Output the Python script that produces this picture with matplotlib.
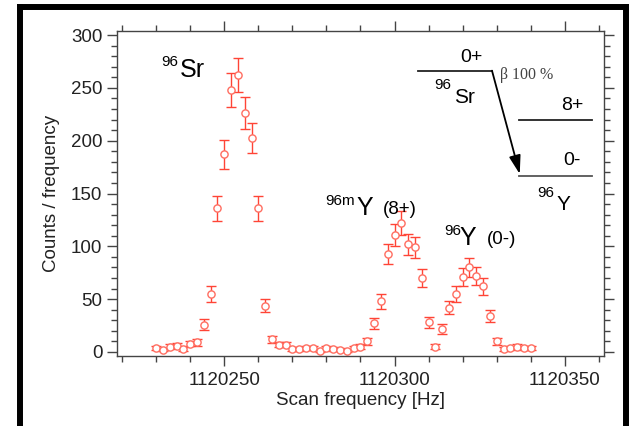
import numpy as np
import matplotlib.pyplot as plt
from matplotlib.lines import Line2D
from matplotlib.ticker import MultipleLocator

plt.rcParams['font.family'] = ['Liberation Sans', 'DejaVu Sans']

# Scan data: frequency, counts per step and their errors
freq = np.arange(1120230, 1120341, 2)
counts = np.array([4, 2, 5, 6, 3, 8, 9, 26, 55, 136,
                   187, 248, 262, 226, 203, 136, 44, 12, 7, 7,
                   3, 3, 4, 4, 1, 4, 3, 2, 1, 4,
                   5, 10, 27, 48, 93, 111, 122, 102, 99, 70,
                   28, 5, 22, 42, 55, 71, 80, 72, 62, 34,
                   10, 3, 4, 5, 4, 4])
errors = np.array([2.0, 1.4, 2.2, 2.4, 1.7, 2.8, 3.0, 5.1, 7.4, 11.7,
                   13.7, 15.7, 16.2, 15.0, 14.2, 11.7, 6.6, 3.5, 2.6, 2.6,
                   1.7, 1.7, 2.0, 2.0, 1.0, 2.0, 1.7, 1.4, 1.0, 2.0,
                   2.2, 3.2, 5.2, 6.9, 9.6, 10.5, 11.0, 10.1, 9.9, 8.4,
                   5.3, 2.2, 4.7, 6.5, 7.4, 8.4, 8.9, 8.5, 7.9, 5.8,
                   3.2, 1.7, 2.0, 2.2, 2.0, 2.0])

fig = plt.figure(figsize=(6.32, 4.26), dpi=100)
ax = fig.add_axes([0.1851, 0.1643, 0.7706, 0.7629])

ax.errorbar(freq, counts, yerr=errors, fmt='o', ms=5.2, mfc='white',
            mec='#ff6d60', mew=1.0, ecolor='#ff4436', elinewidth=1.0,
            capsize=3.6, capthick=1.0)

ax.set_xlim(1120218.5, 1120361.5)
ax.set_ylim(-3.8, 303.8)
ax.xaxis.set_major_locator(MultipleLocator(50))
ax.xaxis.set_minor_locator(MultipleLocator(10))
ax.yaxis.set_major_locator(MultipleLocator(50))
ax.yaxis.set_minor_locator(MultipleLocator(10))
ax.ticklabel_format(axis='x', useOffset=False, style='plain')

for sp in ax.spines.values():
    sp.set_color('#444444')
    sp.set_linewidth(1.0)
ax.tick_params(which='both', direction='out', top=True, right=True,
               color='#444444', width=1.0, labelsize=13.5,
               labelcolor='#222222')
ax.tick_params(which='major', length=7.5, pad=3)
ax.tick_params(which='minor', length=4)
ax.tick_params(axis='x', which='major', pad=4)

ax.set_xlabel('Scan frequency [Hz]', fontsize=13.5, color='#222222', labelpad=2)
ax.set_ylabel('Counts / frequency', fontsize=13.5, color='#222222', labelpad=8)

# Peak labels
ax.text(0.091, 0.893, '96', transform=ax.transAxes, fontsize=11, va='baseline')
ax.text(0.129, 0.858, 'Sr', transform=ax.transAxes, fontsize=18, va='baseline')
ax.text(0.428, 0.465, '96m', transform=ax.transAxes, fontsize=11, va='baseline')
ax.text(0.492, 0.435, 'Y', transform=ax.transAxes, fontsize=18, va='baseline')
ax.text(0.546, 0.437, '(8+)', transform=ax.transAxes, fontsize=13.5, va='baseline')
ax.text(0.672, 0.372, '96', transform=ax.transAxes, fontsize=11, va='baseline')
ax.text(0.704, 0.342, 'Y', transform=ax.transAxes, fontsize=18, va='baseline')
ax.text(0.760, 0.344, '(0-)', transform=ax.transAxes, fontsize=13.5, va='baseline')

# Decay scheme: 96Sr (0+) -> 96Y levels
lc = '#222222'
ax.plot([0.618, 0.770], [0.878, 0.878], color=lc, lw=1.3, transform=ax.transAxes, clip_on=False)
ax.plot([0.826, 0.976], [0.727, 0.727], color=lc, lw=1.3, transform=ax.transAxes, clip_on=False)
ax.plot([0.826, 0.976], [0.554, 0.554], color='#555555', lw=1.3, transform=ax.transAxes, clip_on=False)
ax.annotate('', xy=(0.827, 0.560), xytext=(0.770, 0.878), xycoords='axes fraction',
            arrowprops=dict(arrowstyle='-|>,head_length=0.8,head_width=0.25',
                            color='black', lw=1.3, mutation_scale=14,
                            shrinkA=0, shrinkB=0))
ax.text(0.728, 0.905, '0+', transform=ax.transAxes, fontsize=14, ha='center', va='baseline')
ax.text(0.652, 0.822, '96', transform=ax.transAxes, fontsize=11, va='baseline')
ax.text(0.692, 0.777, 'Sr', transform=ax.transAxes, fontsize=15, va='baseline')
ax.text(0.786, 0.851, 'β 100 %', transform=ax.transAxes, fontsize=11.5, va='baseline',
        family=['Liberation Serif', 'DejaVu Serif'], color='#444444')
ax.text(0.935, 0.758, '8+', transform=ax.transAxes, fontsize=14, ha='center', va='baseline')
ax.text(0.935, 0.588, '0-', transform=ax.transAxes, fontsize=14, ha='center', va='baseline')
ax.text(0.862, 0.488, '96', transform=ax.transAxes, fontsize=11, va='baseline')
ax.text(0.903, 0.448, 'Y', transform=ax.transAxes, fontsize=15, va='baseline')

# Black frame around the panel
fx0, fx1, fy1 = 20 / 632, 626 / 632, 1 - 6.5 / 426
for xs, ys in [([fx0, fx0], [0, fy1]), ([fx0, fx1], [fy1, fy1]), ([fx1, fx1], [fy1, 0])]:
    fig.add_artist(Line2D(xs, ys, transform=fig.transFigure, color='black',
                          lw=4.3, solid_capstyle='projecting'))

fig.savefig('out.png', dpi=100)
